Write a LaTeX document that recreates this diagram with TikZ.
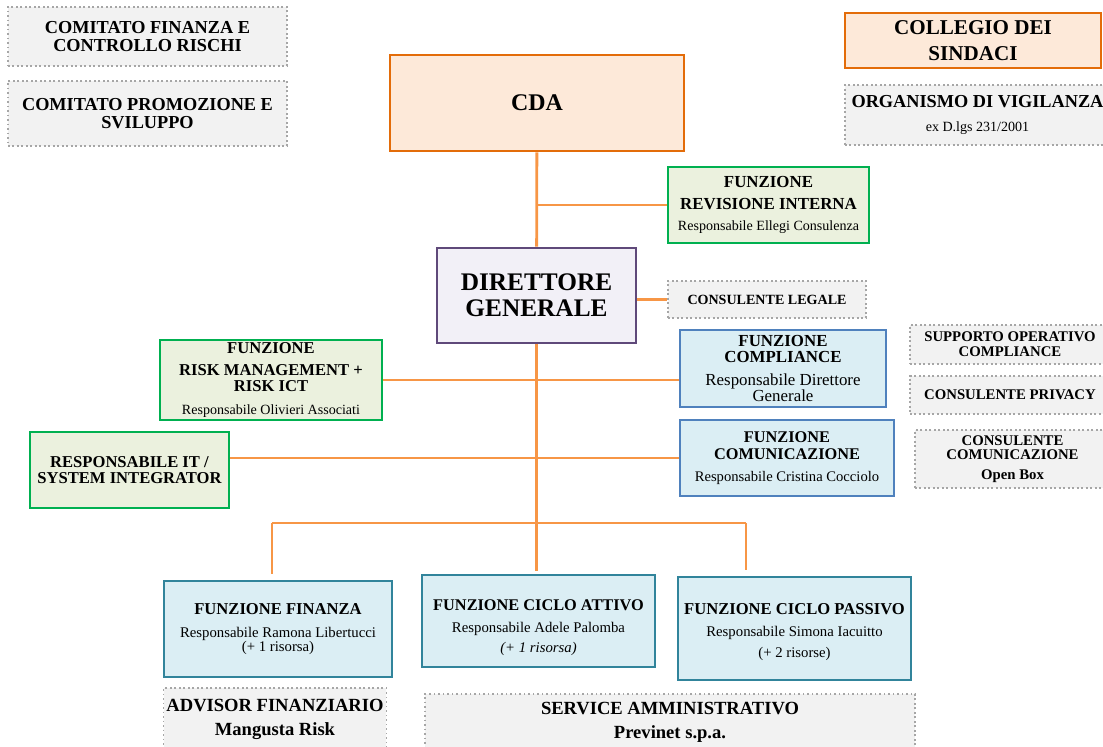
\documentclass[tikz,border=0pt]{standalone}
\usepackage{fontspec}
\setmainfont{Liberation Serif}
\usepackage{xcolor}
\usetikzlibrary{positioning}

\definecolor{lineor}{HTML}{F79646}
\definecolor{cdaor}{HTML}{E36C09}
\definecolor{cdafill}{HTML}{FDE9D9}
\definecolor{grnline}{HTML}{00B050}
\definecolor{grnfill}{HTML}{EBF1DE}
\definecolor{purline}{HTML}{5F497A}
\definecolor{purfill}{HTML}{F2F0F7}
\definecolor{bluline}{HTML}{4F81BD}
\definecolor{tealline}{HTML}{31849B}
\definecolor{blufill}{HTML}{DBEEF4}
\definecolor{gryline}{HTML}{A6A6A6}
\definecolor{gryfill}{HTML}{F2F2F2}

\begin{document}
\begin{tikzpicture}[x=0.025cm, y=-0.025cm,
  box/.style={rectangle, line width=1.8pt, align=center, inner sep=2pt},
  orangebox/.style={box, draw=cdaor, fill=cdafill},
  greenbox/.style={box, draw=grnline, fill=grnfill},
  bluebox/.style={box, draw=bluline, fill=blufill},
  tealbox/.style={box, draw=tealline, fill=blufill},
  extbox/.style={box, draw=gryline, fill=gryfill, line width=1.2pt, dotted},
  link/.style={draw=lineor, line width=2pt}
]
\useasboundingbox (0,0) rectangle (1103,747);

% Comitati e organi di controllo
\node[extbox, minimum width=6.975cm, minimum height=1.475cm, font=\bfseries\fontsize{13}{12.5}\selectfont] (comfin) at (147.5,36.5) {COMITATO FINANZA E\\CONTROLLO RISCHI};
\node[extbox, minimum width=6.975cm, minimum height=1.625cm, font=\bfseries\fontsize{13}{12.5}\selectfont] (compro) at (147.5,113.5) {COMITATO PROMOZIONE E\\SVILUPPO};
\node[orangebox, minimum width=6.4cm, minimum height=1.375cm, font=\bfseries\fontsize{15}{18.4}\selectfont] (collegio) at (973,40.5) {COLLEGIO DEI\\SINDACI};
\node[extbox, minimum width=6.625cm, minimum height=1.5cm, font=\fontsize{13}{17}\selectfont] (odv) at (977.5,115) {{\bfseries ORGANISMO DI VIGILANZA}\\{\fontsize{10}{10}\selectfont ex D.lgs 231/2001}};

% Vertice
\node[orangebox, minimum width=7.35cm, minimum height=2.4cm, font=\bfseries\fontsize{17}{18}\selectfont] (cda) at (537,103) {CDA};
\node[greenbox, minimum width=5.025cm, minimum height=1.9cm, font=\fontsize{10}{16}\selectfont] (revisione) at (768.5,205) {{\bfseries\fontsize{12}{12}\selectfont FUNZIONE}\\{\bfseries\fontsize{12}{12}\selectfont REVISIONE INTERNA}\\[-1pt]{Responsabile Ellegi Consulenza}};
\node[box, draw=purline, fill=purfill, minimum width=4.975cm, minimum height=2.375cm, font=\bfseries\fontsize{18}{18.5}\selectfont] (dg) at (536.5,295.5) {DIRETTORE\\GENERALE};
\node[extbox, minimum width=4.95cm, minimum height=0.925cm, font=\bfseries\fontsize{10}{10}\selectfont] (legale) at (767,299.5) {CONSULENTE LEGALE};

% Funzioni di controllo e staff
\node[greenbox, minimum width=5.55cm, minimum height=2.0cm, font=\fontsize{10}{15.6}\selectfont] (risk) at (271,380) {{\bfseries\fontsize{11.8}{12}\selectfont FUNZIONE}\\{\bfseries\fontsize{11.8}{12}\selectfont RISK MANAGEMENT +}\\[-4.3pt]{\bfseries\fontsize{11.8}{12}\selectfont RISK ICT}\\[0.7pt]{Responsabile Olivieri Associati}};
\node[bluebox, minimum width=5.15cm, minimum height=1.925cm, font=\fontsize{12}{11.3}\selectfont] (compliance) at (783,368.5) {{\bfseries FUNZIONE}\\{\bfseries COMPLIANCE}\\[5.2pt]Responsabile Direttore\\Generale};
\node[extbox, minimum width=5.0cm, minimum height=0.975cm, font=\bfseries\fontsize{10.5}{10.6}\selectfont] (supporto) at (1010,344.5) {SUPPORTO OPERATIVO\\COMPLIANCE};
\node[extbox, minimum width=5.0cm, minimum height=0.95cm, font=\bfseries\fontsize{10.5}{10.6}\selectfont] (privacy) at (1010,395) {CONSULENTE PRIVACY};
\node[extbox, minimum width=4.875cm, minimum height=1.45cm, font=\bfseries\fontsize{10.5}{10.6}\selectfont] (concom) at (1012.5,459) {CONSULENTE\\COMUNICAZIONE\\[3.4pt]Open Box};
\node[greenbox, minimum width=4.975cm, minimum height=1.9cm, font=\bfseries\fontsize{11.8}{11.3}\selectfont] (it) at (129.5,470) {RESPONSABILE IT /\\SYSTEM INTEGRATOR};
\node[bluebox, minimum width=5.35cm, minimum height=1.9cm, font=\fontsize{11.6}{12}\selectfont] (comunicazione) at (787,458) {{\bfseries FUNZIONE}\\{\bfseries COMUNICAZIONE}\\[4pt]{\fontsize{10.4}{10.4}\selectfont Responsabile Cristina Cocciolo}};

% Funzioni operative
\node[tealbox, minimum width=5.7cm, minimum height=2.4cm, font=\fontsize{10.5}{16}\selectfont] (finanza) at (278,629) {{\bfseries\fontsize{11.8}{12}\selectfont FUNZIONE FINANZA}\\Responsabile Ramona Libertucci\\[-6pt](+ 1 risorsa)};
\node[tealbox, minimum width=5.825cm, minimum height=2.3cm, font=\fontsize{10.5}{16}\selectfont] (attivo) at (538.5,621) {\rule{0pt}{17pt}{\bfseries\fontsize{11.6}{12}\selectfont FUNZIONE CICLO ATTIVO}\\Responsabile Adele Palomba\\[-2pt]{\itshape (+ 1 risorsa)}};
\node[tealbox, minimum width=5.825cm, minimum height=2.575cm, font=\fontsize{10.5}{16}\selectfont] (passivo) at (794.5,628.5) {\rule{0pt}{13pt}{\bfseries\fontsize{11.8}{12}\selectfont FUNZIONE CICLO PASSIVO}\\Responsabile Simona Iacuitto\\[-1pt](+ 2 risorse)};
\node[extbox, minimum width=5.55cm, minimum height=1.55cm, font=\bfseries\fontsize{13.2}{17}\selectfont] (advisor) at (275,719) {ADVISOR FINANZIARIO\\Mangusta Risk};
\node[extbox, minimum width=12.25cm, minimum height=1.4cm, font=\bfseries\fontsize{13.2}{17}\selectfont] (service) at (670,722) {SERVICE AMMINISTRATIVO\\Previnet s.p.a.};

% Collegamenti
\coordinate (busL) at (272,523);
\coordinate (busR) at (746,523);
\coordinate (bus) at (dg.south |- busL);
\draw[link] (cda) -- (dg);
\draw[link] (revisione.west) -- (revisione.west -| cda.south);
\draw[link] (dg.east |- legale.west) -- (legale.west);
\draw[link] (dg.south) -- (bus);
\draw[link] (risk.east) -- (compliance.west |- risk.east);
\draw[link] (comunicazione.west) -- (comunicazione.west -| it.east);
\draw[link] (busL) -- (busR);
\draw[link, shorten >=4pt] (busL) -- (busL |- finanza.north);
\draw[link, shorten >=2pt] (bus) -- (bus |- attivo.north);
\draw[link, shorten >=4pt] (busR) -- (busR |- passivo.north);

\end{tikzpicture}
\end{document}
